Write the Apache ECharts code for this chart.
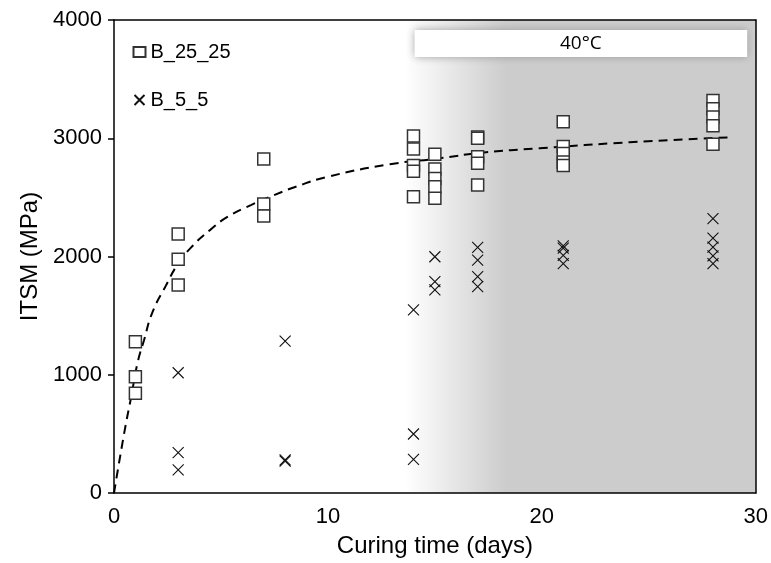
<!DOCTYPE html>
<html>
<head>
<meta charset="utf-8">
<script src="https://cdn.jsdelivr.net/npm/echarts@6/dist/echarts.min.js"></script>
<style>
html,body{margin:0;padding:0;background:#fff;}
#chart{width:771px;height:563px;}
</style>
</head>
<body>
<div id="chart"></div>
<script>
// ---- data ----
const xTicks = [0, 10, 20, 30];
const yTicks = [0, 1000, 2000, 3000, 4000];

const b25Days   = [1, 1, 1, 3, 3, 3, 7, 7, 7, 14, 14, 14, 14, 14, 15, 15, 15, 15, 15, 17, 17, 17, 17, 17, 21, 21, 21, 21, 21, 28, 28, 28, 28, 28];
const b25Values = [1279, 984, 843, 2190, 1976, 1759, 2825, 2444, 2343, 3020, 2910, 2770, 2720, 2506, 2864, 2740, 2660, 2590, 2492, 3010, 3000, 2844, 2788, 2605, 3140, 2930, 2870, 2800, 2770, 3320, 3250, 3180, 3105, 2950];

const b5Days   = [3, 3, 3, 8, 8, 8, 14, 14, 14, 15, 15, 15, 17, 17, 17, 17, 21, 21, 21, 21, 28, 28, 28, 28, 28];
const b5Values = [1017, 341, 195, 1285, 280, 270, 1548, 499, 285, 1998, 1787, 1717, 2078, 1970, 1829, 1745, 2090, 2070, 2010, 1940, 2320, 2155, 2080, 2005, 1940];

const trendX = [0, 0.5, 0.8, 1.1, 1.4, 1.8, 2.4, 3, 3.7, 4.5, 5.3, 6.4, 7.3, 8.5, 10, 12.9, 15.2, 17.2, 19.9, 24.1, 28.8];
const trendY = [0, 530, 810, 1100, 1290, 1530, 1745, 1940, 2095, 2225, 2335, 2435, 2505, 2590, 2675, 2780, 2830, 2878, 2915, 2966, 3008];

const seriesNames = ['B_25_25', 'B_5_5'];
const heatLabel = '40°C';
const heatStart = 13.6, heatEnd = 30;
const boxX = [14.05, 29.6], boxY = [3687, 3915];

// ---- build ----
const zip = (a, b) => a.map((v, i) => [v, b[i]]);
const chart = echarts.init(document.getElementById('chart'));
const font = 'Liberation Sans, Arial, sans-serif';
const crossPath = 'path://M0,0L10,10M10,0L0,10';

chart.setOption({
  animation: false,
  backgroundColor: '#ffffff',
  grid: { left: 114, right: 14, top: 20, bottom: 70 },
  legend: {
    data: seriesNames,
    orient: 'vertical',
    left: 127, top: 37,
    itemWidth: 12, itemHeight: 10,
    itemGap: 28,
    textStyle: { fontFamily: font, fontSize: 20, color: '#000' }
  },
  xAxis: [{
    type: 'value', min: 0, max: 30, interval: 10, z: 5,
    name: 'Curing time (days)', nameLocation: 'middle', nameGap: 41,
    nameTextStyle: { fontFamily: font, fontSize: 24, color: '#000' },
    axisLine: { show: true, lineStyle: { color: '#000', width: 1.5 } },
    axisTick: { show: false },
    axisLabel: { fontFamily: font, fontSize: 22, color: '#000', margin: 13,
      formatter: v => xTicks.includes(v) ? String(v) : '' },
    splitLine: { show: false }
  }, {
    type: 'value', min: 0, max: 30, position: 'top', z: 5,
    axisLine: { show: true, onZero: false, lineStyle: { color: '#000', width: 1.5 } },
    axisTick: { show: false }, axisLabel: { show: false }, splitLine: { show: false }
  }],
  yAxis: [{
    type: 'value', min: 0, max: 4000, interval: 1000, z: 5,
    name: 'ITSM (MPa)', nameLocation: 'middle', nameGap: 72, nameRotate: 90,
    nameTextStyle: { fontFamily: font, fontSize: 24, color: '#000' },
    axisLine: { show: true, lineStyle: { color: '#000', width: 1.5 } },
    axisTick: { show: true, inside: false, length: 6, lineStyle: { color: '#000', width: 1.5 } },
    axisLabel: { fontFamily: font, fontSize: 22, color: '#000', margin: 12,
      formatter: v => yTicks.includes(v) ? String(v) : '' },
    splitLine: { show: false }
  }, {
    type: 'value', min: 0, max: 4000, position: 'right', z: 5,
    axisLine: { show: true, onZero: false, lineStyle: { color: '#000', width: 1.5 } },
    axisTick: { show: false }, axisLabel: { show: false }, splitLine: { show: false }
  }],
  series: [
    {
      name: 'shade', type: 'line', data: [], silent: true, z: 1,
      markArea: {
        silent: true,
        data: [
          [{ xAxis: heatStart, yAxis: 0,
             itemStyle: { color: new echarts.graphic.LinearGradient(0, 0, 1, 0, [
               { offset: 0, color: '#ffffff' },
               { offset: 0.29, color: '#cccccc' },
               { offset: 1, color: '#cccccc' }]) } },
           { xAxis: heatEnd, yAxis: 4000 }],
          [{ xAxis: boxX[0], yAxis: boxY[0], name: heatLabel,
             itemStyle: { color: '#ffffff', shadowBlur: 8, shadowColor: 'rgba(150,150,150,0.9)' },
             label: { show: true, position: 'inside', color: '#000', fontFamily: 'Open Sans, sans-serif', fontSize: 19 } },
           { xAxis: boxX[1], yAxis: boxY[1] }]
        ]
      }
    },
    {
      name: 'trend', type: 'line', data: zip(trendX, trendY), smooth: true,
      showSymbol: false, silent: true, z: 3,
      lineStyle: { color: '#000', width: 2, type: [9, 6] }
    },
    {
      name: seriesNames[0], type: 'scatter', data: zip(b25Days, b25Values),
      symbol: 'rect', symbolSize: 12, z: 4,
      itemStyle: { color: '#ffffff', borderColor: '#333', borderWidth: 1.5, opacity: 1 }
    },
    {
      name: seriesNames[1], type: 'scatter', data: zip(b5Days, b5Values),
      symbol: crossPath, symbolSize: 11, z: 4,
      itemStyle: { color: 'none', borderColor: '#111', borderWidth: 1.1, opacity: 1 }
    }
  ]
});
</script>
</body>
</html>
